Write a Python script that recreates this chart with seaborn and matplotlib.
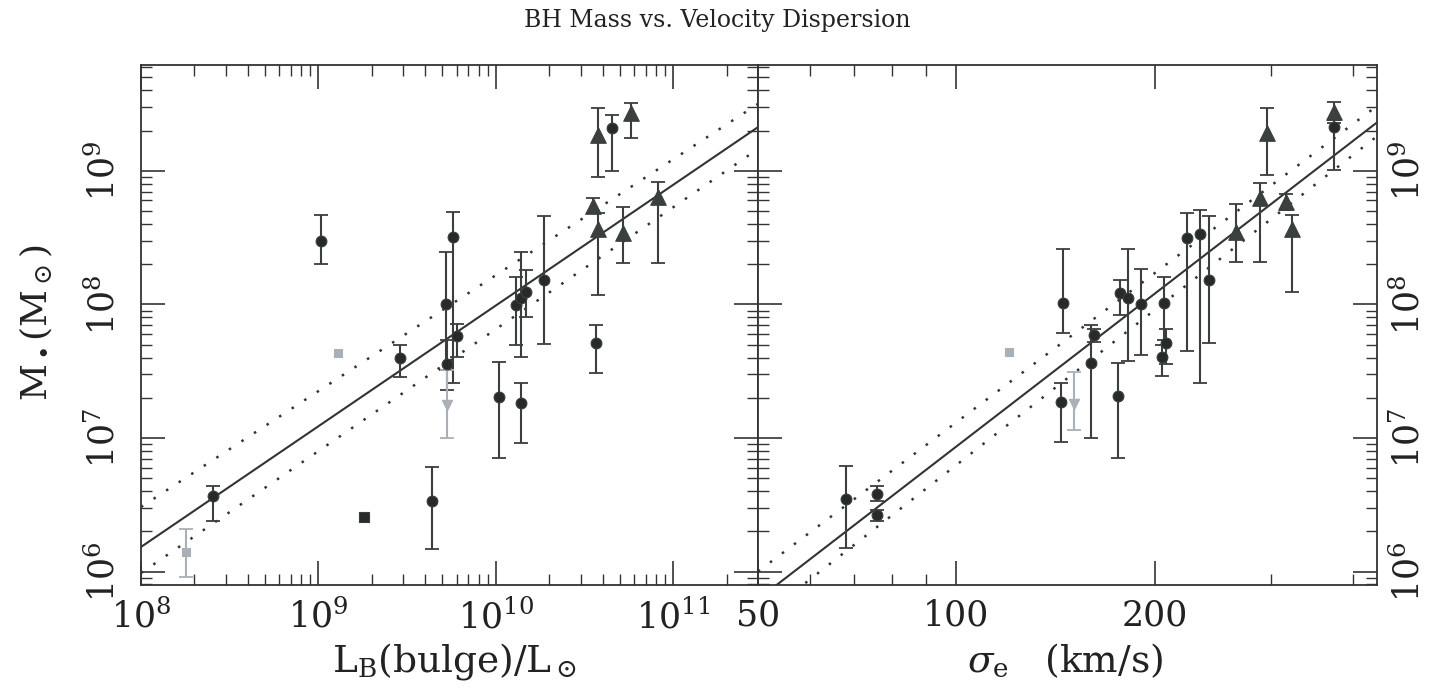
import numpy as np
import pandas as pd
import matplotlib
matplotlib.use("Agg")
import matplotlib.pyplot as plt
import seaborn as sns
from matplotlib.ticker import FixedLocator, NullFormatter

# ---------------- data ----------------
# Left panel: bulge luminosity vs BH mass
lum_L = [2.55e8, 1.8e8, 1.03e9, 1.29e9, 1.8e9, 2.88e9, 4.37e9, 5.73e9, 5.22e9,
         6.03e9, 5.3e9, 5.3e9, 1.04e10, 1.38e10, 1.3e10, 1.38e10, 1.48e10,
         1.86e10, 3.66e10, 3.76e10, 4.5e10, 5.75e10, 3.52e10, 3.76e10,
         5.19e10, 8.2e10]
mass_L = [3.68e6, 1.4e6, 3.0e8, 4.3e7, 2.56e6, 3.98e7, 3.37e6, 3.2e8, 1.01e8,
          5.8e7, 3.58e7, 1.77e7, 2.03e7, 1.83e7, 9.9e7, 1.12e8, 1.24e8,
          1.53e8, 5.15e7, 1.86e9, 2.1e9, 2.72e9, 5.47e8, 3.68e8,
          3.44e8, 6.38e8]
hi_L = [4.37e6, 2.08e6, 4.67e8, np.nan, np.nan, 4.98e7, 6.07e6, 4.93e8, 2.47e8,
        7.15e7, 5.4e7, 3.23e7, 3.7e7, 2.58e7, 1.6e8, 2.47e8, 1.81e8,
        4.6e8, 7.0e7, 2.97e9, 2.63e9, 3.23e9, 6.28e8, 4.84e8,
        5.37e8, 8.28e8]
lo_L = [2.39e6, 9.1e5, 2.0e8, np.nan, np.nan, 2.86e7, 1.48e6, 2.58e7, 3.23e7,
        4.05e7, 2.29e7, 1.0e7, 7.1e6, 9.2e6, 4.98e7, 4.05e7, 8.05e7,
        5.06e7, 3.07e7, 9.0e8, 1.0e9, 1.77e9, 4.84e8, 1.18e8,
        2.05e8, 2.05e8]
kind_L = ["circle", "light_sq", "circle", "light_sq", "dark_sq", "circle", "circle",
          "circle", "circle", "circle", "circle", "light_v", "circle", "circle",
          "circle", "circle", "circle", "circle", "circle", "triangle", "circle",
          "triangle", "triangle", "triangle", "triangle", "triangle"]

# Right panel: velocity dispersion vs BH mass
sigma_R = [67.9, 75.7, 75.7, 120, 144, 145, 151, 162, 160, 176, 177, 182, 190.6,
           206.6, 208, 205, 224, 234, 242, 266, 289, 296.6, 316, 323.6, 374, 374]
mass_R = [3.49e6, 3.81e6, 2.65e6, 4.4e7, 1.86e7, 1.03e8, 1.8e7, 5.9e7, 3.65e7,
          2.07e7, 1.22e8, 1.12e8, 1.01e8, 1.03e8, 5.15e7, 4.05e7, 3.15e8,
          3.37e8, 1.53e8, 3.49e8, 6.28e8, 1.93e9, 5.86e8, 3.68e8, 2.77e9, 2.14e9]
hi_R = [6.17e6, 4.37e6, 2.9e6, np.nan, 2.58e7, 2.6e8, 3.12e7, 6.6e7, 7.0e7,
        3.65e7, 1.53e8, 2.6e8, 1.85e8, 1.6e8, 6.5e7, 5.0e7, 4.84e8,
        5.1e8, 4.6e8, 5.66e8, 8.13e8, 2.97e9, 6.7e8, 4.68e8, 3.28e9, 2.4e9]
lo_R = [1.5e6, 3.4e6, 2.4e6, np.nan, 9.3e6, 6.1e7, 1.15e7, 5.2e7, 1.0e7,
        7.1e6, 8.3e7, 3.8e7, 4.2e7, 5.4e7, 3.6e7, 2.9e7, 4.5e7,
        2.58e7, 5.15e7, 2.08e8, 2.08e8, 9.3e8, 5.1e8, 1.24e8, 2.3e9, 1.02e9]
kind_R = ["circle", "circle", "circle", "light_sq", "circle", "circle", "light_v",
          "circle", "circle", "circle", "circle", "circle", "circle", "circle",
          "circle", "circle", "circle", "circle", "circle", "triangle", "triangle",
          "triangle", "triangle", "triangle", "triangle", "circle"]

# fit lines: log M = a + b * (log x - pivot)  [solid, upper dotted, lower dotted]
fit_L_pivot = 8.0
fit_L_a = [6.184, 6.483, 5.989]
fit_L_b = [0.904, 0.868, 0.913]
fit_R_pivot = np.log10(200.0)
fit_R_a = [8.08, 8.234, 7.958]
fit_R_b = [3.80, 3.71, 3.855]

xticks_L = [1e8, 1e9, 1e10, 1e11]
xticklabels_L = [r"$10^{8}$", r"$10^{9}$", r"$10^{10}$", r"$10^{11}$"]
xticks_R = [50, 100, 200]
xticklabels_R = ["50", "100", "200"]
xminor_R = [60, 70, 80, 90, 300, 400]
yticks = [1e6, 1e7, 1e8, 1e9]
yticklabels = [r"$10^{6}$", r"$10^{7}$", r"$10^{8}$", r"$10^{9}$"]

title = "BH Mass vs. Velocity Dispersion"
xlabel_L = r"$\mathrm{L_B(bulge)/L_\odot}$"
xlabel_R = r"$\sigma_\mathrm{e}\quad\mathrm{(km/s)}$"
ylabel = r"$\mathrm{M_\bullet(M_\odot)}$"

# ---------------- style ----------------
sns.set_theme(style="ticks")
plt.rcParams["font.family"] = ["DejaVu Serif"]
plt.rcParams["mathtext.fontset"] = "dejavuserif"
plt.rcParams["axes.linewidth"] = 1.3

DARK = "#262a29"
ERR = "#3a3e3d"
LIGHT = "#a9b0b8"
styles = {
    "circle":   dict(marker="o", color=DARK, s=60, ecol=ERR),
    "triangle": dict(marker="^", color="#3a403e", s=125, ecol=ERR),
    "dark_sq":  dict(marker="s", color=DARK, s=42, ecol=ERR),
    "light_sq": dict(marker="s", color=LIGHT, s=36, ecol=LIGHT),
    "light_v":  dict(marker="v", color=LIGHT, s=55, ecol=LIGHT),
}

fig = plt.figure(figsize=(14.41, 6.90), dpi=100)
x0, xm, x1 = 141 / 1441, 758 / 1441, 1377 / 1441
y0, y1 = 1 - 585 / 690, 1 - 65 / 690
ax1 = fig.add_axes([x0, y0, xm - x0, y1 - y0])
ax2 = fig.add_axes([xm, y0, x1 - xm, y1 - y0])

ylim = (7.93e5, 6.2e9)


def draw(ax, x, m, hi, lo, kinds, xcol):
    df = pd.DataFrame({xcol: x, "M": m, "hi": hi, "lo": lo, "kind": kinds})
    for k, st in styles.items():
        sub = df[df["kind"] == k]
        if sub.empty:
            continue
        e = sub.dropna(subset=["hi", "lo"])
        if not e.empty:
            ax.errorbar(e[xcol], e["M"], yerr=[e["M"] - e["lo"], e["hi"] - e["M"]],
                        fmt="none", ecolor=st["ecol"], elinewidth=1.5,
                        capsize=5, capthick=1.3, zorder=2)
        sns.scatterplot(data=sub, x=xcol, y="M", ax=ax, marker=st["marker"],
                        color=st["color"], s=st["s"], edgecolor=st["ecol"],
                        linewidth=0.8, zorder=3, legend=False)


def fit_lines(ax, xlo, xhi, pivot, a_list, b_list):
    xs = np.linspace(xlo, xhi, 200)
    for i, (a, b) in enumerate(zip(a_list, b_list)):
        ys = 10 ** (a + b * (np.log10(xs) - pivot))
        if i == 0:
            ax.plot(xs, ys, color="#303433", lw=1.5, zorder=1)
        else:
            ax.plot(xs, ys, color="#303433", lw=1.8, ls=(0, (1, 5)), zorder=1)


# left panel
xlim_L = (1e8, 3.0e11)
fit_lines(ax1, xlim_L[0], xlim_L[1], fit_L_pivot, fit_L_a, fit_L_b)
draw(ax1, lum_L, mass_L, hi_L, lo_L, kind_L, "L")
ax1.set_xscale("log")
ax1.set_yscale("log")
ax1.set_xlim(*xlim_L)
ax1.set_ylim(*ylim)

# right panel
xlim_R = (50, 435)
fit_lines(ax2, xlim_R[0], xlim_R[1], fit_R_pivot, fit_R_a, fit_R_b)
draw(ax2, sigma_R, mass_R, hi_R, lo_R, kind_R, "sigma")
ax2.set_xscale("log")
ax2.set_yscale("log")
ax2.set_xlim(*xlim_R)
ax2.set_ylim(*ylim)

for ax in (ax1, ax2):
    ax.set_xlabel("")
    ax.set_ylabel("")
    ax.set_yticks(yticks)
    ax.set_yticklabels(yticklabels)
    ax.yaxis.set_minor_locator(matplotlib.ticker.LogLocator(base=10, subs=np.arange(2, 10)))
    ax.yaxis.set_minor_formatter(NullFormatter())
    ax.tick_params(which="both", direction="in", top=True, bottom=True,
                   left=True, right=True, colors="#333333", labelcolor="#222222")
    ax.tick_params(which="major", length=17, width=1.2, labelsize=25)
    ax.tick_params(which="minor", length=8, width=1.0)
    ax.tick_params(axis="y", labelrotation=90)
    for sp in ax.spines.values():
        sp.set_color("#333333")

ax1.set_xticks(xticks_L)
ax1.set_xticklabels(xticklabels_L)
ax1.xaxis.set_minor_locator(matplotlib.ticker.LogLocator(base=10, subs=np.arange(2, 10)))
ax1.xaxis.set_minor_formatter(NullFormatter())
ax1.tick_params(axis="y", which="major", pad=14, labelleft=True, labelright=False)
ax1.tick_params(axis="x", which="major", pad=10)

ax2.set_xticks(xticks_R)
ax2.set_xticklabels(xticklabels_R)
ax2.xaxis.set_minor_locator(FixedLocator(xminor_R))
ax2.xaxis.set_minor_formatter(NullFormatter())
ax2.tick_params(axis="y", which="major", pad=10, labelleft=False, labelright=True)
ax2.tick_params(axis="x", which="major", pad=10)
for lab in ax1.get_yticklabels() + ax2.get_yticklabels():
    lab.set_va("center")

fig.text(717 / 1441, 1 - 21 / 690, title, ha="center", va="center",
         fontsize=17, family="DejaVu Serif", color="#222222")
fig.text(455 / 1441, 1 - 661 / 690, xlabel_L, ha="center", va="center",
         fontsize=27, color="#222222")
fig.text(1065 / 1441, 1 - 661 / 690, xlabel_R, ha="center", va="center",
         fontsize=27, color="#222222")
fig.text(36 / 1441, 1 - 323 / 690, ylabel, ha="center", va="center",
         rotation=90, fontsize=26, color="#222222")

fig.savefig("out.png", dpi=100)
